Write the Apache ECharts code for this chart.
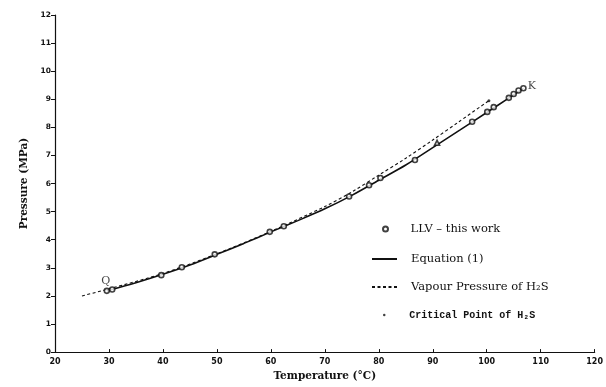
<!DOCTYPE html>
<html>
<head>
<meta charset="utf-8">
<script src="https://cdn.jsdelivr.net/npm/echarts@6/dist/echarts.min.js"></script>
<style>html,body{margin:0;padding:0;background:#fff}#c{width:606px;height:387px}</style>
</head>
<body>
<div id="c"></div>
<script>
// LLV - this work (temperature °C, pressure MPa)
const llvT = [29.6, 30.6, 39.7, 43.5, 49.6, 59.8, 62.4, 74.5, 78.2, 80.3, 86.7, 90.8, 97.3, 100.1, 101.3, 104.1, 105.0, 105.9, 106.8];
const llvP = [2.18, 2.23, 2.74, 3.02, 3.48, 4.28, 4.48, 5.54, 5.94, 6.20, 6.84, 7.45, 8.20, 8.55, 8.72, 9.05, 9.19, 9.31, 9.39];
// Equation (1)
const eqT = [29.6, 35, 40, 45, 50, 55, 60, 65, 70, 75, 80, 85, 90, 95, 100, 104, 106.8];
const eqP = [2.18, 2.47, 2.77, 3.10, 3.48, 3.87, 4.28, 4.68, 5.10, 5.58, 6.12, 6.66, 7.28, 7.90, 8.53, 9.03, 9.39];
// Vapour pressure of H2S
const vpT = [25, 30, 40, 50, 60, 70, 75, 80, 85, 90, 95, 100.4];
const vpP = [2.00, 2.25, 2.80, 3.50, 4.30, 5.18, 5.70, 6.30, 6.90, 7.55, 8.22, 8.95];
// Critical point of H2S
const cpT = [100.4];
const cpP = [8.95];
const xTicks = {min: 20, max: 120, interval: 10};
const yTicks = {min: 0, max: 12, interval: 1};

const zip = (a, b) => a.map((v, i) => [v, b[i]]);
const serif = 'DejaVu Serif';
const llvData = zip(llvT, llvP).map((d, i) => {
  const item = {value: d};
  if (i === 0) item.label = {show: true, formatter: 'Q', position: 'top', distance: 1,
    fontFamily: serif, fontSize: 11, color: '#111', offset: [-1, 0]};
  if (i === llvT.length - 1) item.label = {show: true, formatter: 'K', position: 'right', distance: 1,
    fontFamily: serif, fontSize: 11, color: '#111', offset: [0, -2]};
  if (i === 11) item.symbol = 'triangle';
  return item;
});

const legText = {fontFamily: serif, fontSize: 11.5, color: '#111', padding: [0, 0, 0, 9]};
const legBase = {orient: 'vertical', left: 371, itemWidth: 25, itemGap: 0, padding: 0, textStyle: legText};

const chart = echarts.init(document.getElementById('c'), null, {renderer: 'canvas'});
chart.setOption({
  animation: false,
  backgroundColor: '#fff',
  grid: {left: 55, right: 8, top: 15, bottom: 30},
  xAxis: {
    type: 'value', min: xTicks.min, max: xTicks.max, interval: xTicks.interval,
    name: 'Temperature (°C)', nameLocation: 'middle', nameGap: 17,
    nameTextStyle: {fontFamily: serif, fontSize: 10.5, fontWeight: 'bold', color: '#111'},
    axisLine: {lineStyle: {color: '#111', width: 1.2}},
    axisTick: {inside: true, length: 3, lineStyle: {color: '#111'}},
    axisLabel: {margin: 6, fontFamily: 'DejaVu Sans', fontSize: 8, fontWeight: 'bold', color: '#111'},
    splitLine: {show: false}
  },
  yAxis: {
    type: 'value', min: yTicks.min, max: yTicks.max, interval: yTicks.interval,
    name: 'Pressure (MPa)', nameLocation: 'middle', nameGap: 20,
    nameTextStyle: {fontFamily: serif, fontSize: 10.5, fontWeight: 'bold', color: '#111'},
    axisLine: {lineStyle: {color: '#111', width: 1.2}},
    axisTick: {length: 4, lineStyle: {color: '#111'}},
    axisLabel: {margin: 4, fontFamily: 'DejaVu Sans', fontSize: 7.5, fontWeight: 'bold', color: '#111'},
    splitLine: {show: false}
  },
  legend: [
    Object.assign({}, legBase, {top: 223, left: 382, itemWidth: 6, itemHeight: 5,
      data: [{name: 'LLV – this work', textStyle: Object.assign({}, legText, {padding: [0, 0, 0, 17]})}]}),
    Object.assign({}, legBase, {top: 253, itemHeight: 10,
      data: [{name: 'Equation (1)', itemStyle: {opacity: 0}}]}),
    Object.assign({}, legBase, {top: 281, itemHeight: 10,
      data: [{name: 'Vapour Pressure of H₂S', itemStyle: {opacity: 0}}]}),
    Object.assign({}, legBase, {top: 310, left: 383, itemWidth: 4, itemHeight: 2.5,
      data: [{name: 'Critical Point of H₂S', textStyle: {fontFamily: 'Liberation Mono', fontSize: 10,
        fontWeight: 'bold', color: '#111', padding: [0, 0, 0, 18]}}]})
  ],
  series: [
    {name: 'Vapour Pressure of H₂S', type: 'line', data: zip(vpT, vpP), smooth: 0.3,
      symbol: 'none', itemStyle: {color: '#111'}, lineStyle: {color: '#111', width: 1.1, type: [3, 2.5]}, z: 2},
    {name: 'Equation (1)', type: 'line', data: zip(eqT, eqP), smooth: 0.3,
      symbol: 'none', itemStyle: {color: '#111'}, lineStyle: {color: '#111', width: 1.6}, z: 3},
    {name: 'LLV – this work', type: 'scatter', data: llvData, symbol: 'circle', symbolSize: 5,
      itemStyle: {color: '#fff', borderColor: '#111', borderWidth: 1.6}, z: 4},
    {name: 'Critical Point of H₂S', type: 'scatter', data: zip(cpT, cpP), symbol: 'circle', symbolSize: 3,
      itemStyle: {color: '#111'}, z: 4}
  ]
});
</script>
</body>
</html>
